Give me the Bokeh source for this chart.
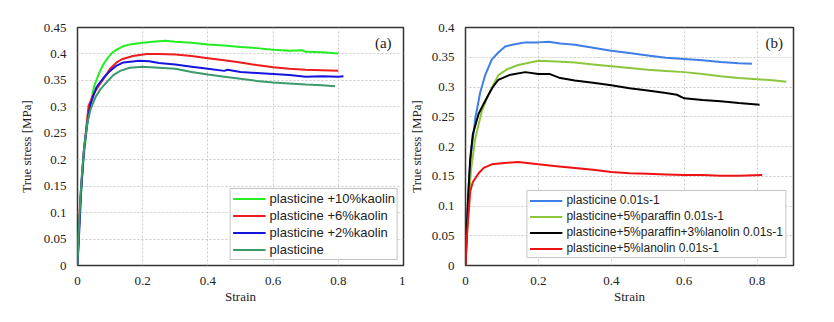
from bokeh.plotting import figure
from bokeh.layouts import row
from bokeh.models import FixedTicker, Legend, LegendItem, Label
from bokeh.embed import file_html
from bokeh.resources import INLINE

# ---------------- Panel (a) data ----------------
a_x_ticks = [0, 0.2, 0.4, 0.6, 0.8, 1.0]
a_x_labels = ["0", "0.2", "0.4", "0.6", "0.8", "1"]
a_y_ticks = [0, 0.05, 0.1, 0.15, 0.2, 0.25, 0.3, 0.35, 0.4, 0.45]
a_y_labels = ["0", "0.05", "0.1", "0.15", "0.2", "0.25", "0.3", "0.35", "0.4", "0.45"]

k10_x = [0, 0.003, 0.01, 0.018, 0.029, 0.04, 0.05, 0.065, 0.08, 0.09, 0.1, 0.11, 0.12, 0.141, 0.17, 0.2,
         0.23, 0.27, 0.3, 0.35, 0.4, 0.45, 0.5, 0.55, 0.6, 0.65, 0.69, 0.7, 0.75, 0.8]
k10_y = [0, 0.053, 0.13, 0.198, 0.261, 0.305, 0.337, 0.362, 0.381, 0.39, 0.398, 0.404, 0.408, 0.415, 0.419, 0.421,
         0.423, 0.425, 0.423, 0.421, 0.418, 0.416, 0.413, 0.411, 0.408, 0.406, 0.407, 0.404, 0.403, 0.401]

k6_x = [0, 0.008, 0.02, 0.034, 0.05, 0.065, 0.08, 0.1, 0.12, 0.136, 0.17, 0.213, 0.25, 0.3,
        0.35, 0.4, 0.45, 0.5, 0.55, 0.6, 0.65, 0.7, 0.75, 0.8]
k6_y = [0, 0.123, 0.22, 0.302, 0.325, 0.34, 0.353, 0.372, 0.384, 0.39, 0.396, 0.40, 0.40, 0.399,
        0.396, 0.392, 0.388, 0.384, 0.379, 0.375, 0.372, 0.37, 0.369, 0.368]

k2_x = [0, 0.005, 0.012, 0.02, 0.03, 0.04, 0.058, 0.08, 0.1, 0.12, 0.141, 0.19, 0.22, 0.25, 0.3,
        0.35, 0.4, 0.45, 0.46, 0.5, 0.55, 0.6, 0.65, 0.7, 0.75, 0.8, 0.816]
k2_y = [0, 0.06, 0.15, 0.22, 0.27, 0.305, 0.337, 0.355, 0.368, 0.378, 0.384, 0.387, 0.386, 0.383, 0.38,
        0.376, 0.372, 0.368, 0.37, 0.366, 0.364, 0.362, 0.36, 0.357, 0.358, 0.357, 0.358]

pl_x = [0, 0.005, 0.012, 0.02, 0.03, 0.04, 0.055, 0.07, 0.09, 0.11, 0.131, 0.16, 0.2, 0.25, 0.3,
        0.35, 0.4, 0.45, 0.5, 0.55, 0.6, 0.65, 0.7, 0.75, 0.79]
pl_y = [0, 0.08, 0.16, 0.22, 0.27, 0.295, 0.318, 0.333, 0.347, 0.36, 0.368, 0.374, 0.376, 0.374, 0.372,
        0.366, 0.361, 0.357, 0.353, 0.349, 0.346, 0.344, 0.342, 0.341, 0.339]

a_names = ["plasticine +10%kaolin", "plasticine +6%kaolin", "plasticine +2%kaolin", "plasticine"]
a_colors = ["#22ee22", "#ee1c1c", "#1414dc", "#3a9a6c"]

# ---------------- Panel (b) data ----------------
b_x_ticks = [0, 0.2, 0.4, 0.6, 0.8]
b_x_labels = ["0", "0.2", "0.4", "0.6", "0.8"]
b_y_ticks = [0, 0.05, 0.1, 0.15, 0.2, 0.25, 0.3, 0.35, 0.4]
b_y_labels = ["0", "0.05", "0.1", "0.15", "0.2", "0.25", "0.3", "0.35", "0.4"]

bp_x = [0, 0.005, 0.01, 0.017, 0.027, 0.04, 0.054, 0.072, 0.09, 0.109, 0.135, 0.164, 0.2, 0.228,
        0.26, 0.3, 0.35, 0.4, 0.45, 0.5, 0.55, 0.6, 0.65, 0.7, 0.75, 0.786]
bp_y = [0, 0.08, 0.15, 0.197, 0.248, 0.29, 0.32, 0.346, 0.358, 0.368, 0.372, 0.375, 0.375, 0.376,
        0.373, 0.371, 0.366, 0.361, 0.357, 0.353, 0.349, 0.347, 0.345, 0.342, 0.34, 0.339]

par_x = [0, 0.008, 0.015, 0.027, 0.045, 0.063, 0.09, 0.115, 0.145, 0.2, 0.25, 0.3, 0.35, 0.4,
         0.45, 0.5, 0.55, 0.6, 0.65, 0.7, 0.75, 0.8, 0.85, 0.88]
par_y = [0, 0.1, 0.16, 0.214, 0.26, 0.287, 0.32, 0.33, 0.337, 0.344, 0.343, 0.341, 0.338, 0.335,
         0.332, 0.329, 0.327, 0.325, 0.322, 0.318, 0.315, 0.313, 0.311, 0.309]

pl3_x = [0, 0.006, 0.013, 0.02, 0.036, 0.05, 0.063, 0.075, 0.09, 0.12, 0.164, 0.2, 0.23, 0.26,
         0.3, 0.35, 0.4, 0.45, 0.5, 0.55, 0.58, 0.6, 0.65, 0.7, 0.75, 0.807]
pl3_y = [0, 0.1, 0.18, 0.22, 0.255, 0.272, 0.287, 0.3, 0.312, 0.32, 0.325, 0.322, 0.322, 0.315,
         0.311, 0.307, 0.303, 0.298, 0.294, 0.29, 0.287, 0.281, 0.278, 0.276, 0.273, 0.27]

lan_x = [0, 0.005, 0.01, 0.013, 0.02, 0.036, 0.05, 0.072, 0.1, 0.145, 0.2, 0.25, 0.3, 0.35,
         0.4, 0.45, 0.5, 0.55, 0.6, 0.65, 0.7, 0.75, 0.814]
lan_y = [0, 0.06, 0.1, 0.125, 0.14, 0.155, 0.164, 0.17, 0.172, 0.174, 0.17, 0.167, 0.164, 0.161,
         0.157, 0.155, 0.154, 0.153, 0.152, 0.152, 0.151, 0.151, 0.152]

b_names = ["plasticine 0.01s-1", "plasticine+5%paraffin 0.01s-1",
           "plasticine+5%paraffin+3%lanolin 0.01s-1", "plasticine+5%lanolin 0.01s-1"]
b_colors = ["#3d7fe6", "#8cc63e", "#000000", "#ee1111"]

SERIF = "'Liberation Serif', 'Times New Roman', serif"
SANS = "'Liberation Sans', Arial, sans-serif"


def make_fig(xmax, ymax, xt, xl, yt, yl, min_left, fw, min_right, ylab_standoff):
    p = figure(frame_width=fw, frame_height=238, x_range=(0, xmax), y_range=(0, ymax),
               output_backend="svg", toolbar_location=None,
               min_border_left=min_left, min_border_right=min_right,
               min_border_top=27, min_border_bottom=55)
    p.outline_line_color = "#333333"
    p.outline_line_width = 1.5
    p.background_fill_color = "white"
    p.border_fill_color = "white"
    p.xaxis.ticker = FixedTicker(ticks=xt)
    p.yaxis.ticker = FixedTicker(ticks=yt)
    p.xaxis.major_label_overrides = {t: l for t, l in zip(xt, xl)}
    p.yaxis.major_label_overrides = {t: l for t, l in zip(yt, yl)}
    for ax in (p.xaxis[0], p.yaxis[0]):
        ax.axis_line_color = None
        ax.major_tick_line_color = None
        ax.minor_tick_line_color = None
        ax.major_tick_out = 0
        ax.major_tick_in = 0
        ax.major_label_text_font = SERIF
        ax.major_label_text_font_size = "13px"
        ax.major_label_text_color = "#222222"
        ax.axis_label_text_font = SERIF
        ax.axis_label_text_font_size = "13px"
        ax.axis_label_text_font_style = "normal"
        ax.axis_label_text_color = "#222222"
    p.xaxis.axis_label = "Strain"
    p.yaxis.axis_label = "True stress [MPa]"
    p.xaxis.major_label_standoff = 11
    p.xaxis.axis_label_standoff = 1
    p.yaxis.major_label_standoff = 11
    p.yaxis.axis_label_standoff = ylab_standoff
    for g in (p.xgrid, p.ygrid):
        g.grid_line_color = "#c8c8c8"
        g.grid_line_dash = "2 2"
        g.grid_line_width = 1
    return p


def add_legend(p, renderers, names, margin, fsize):
    items = [LegendItem(label=n, renderers=[r]) for n, r in zip(names, renderers)]
    leg = Legend(items=items, location="bottom_right")
    leg.label_text_font = SANS
    leg.label_text_font_size = fsize
    leg.label_text_color = "#222222"
    leg.glyph_width = 33
    leg.glyph_height = 13
    leg.label_height = 13
    leg.label_standoff = 4
    leg.spacing = 2
    leg.padding = 2
    leg.margin = margin
    leg.border_line_color = "#8a8a8a"
    leg.border_line_width = 1
    leg.background_fill_color = "white"
    leg.background_fill_alpha = 1
    p.add_layout(leg, "center")


# Panel (a)
pa = make_fig(1.0, 0.45, a_x_ticks, a_x_labels, a_y_ticks, a_y_labels, 77, 326, 2, 7)
a_series = [(k10_x, k10_y), (k6_x, k6_y), (k2_x, k2_y), (pl_x, pl_y)]
ra = []
for (xs, ys), c in zip(a_series, a_colors):
    ra.append(pa.line(xs, ys, line_color=c, line_width=2))
add_legend(pa, ra, a_names, 5, "13px")
pa.add_layout(Label(x=0.938, y=0.421, text="(a)", text_font=SERIF, text_font_size="15px",
                    text_align="center", text_baseline="middle", text_color="#222222"))

# Panel (b)
pb = make_fig(0.9, 0.4, b_x_ticks, b_x_labels, b_y_ticks, b_y_labels, 60, 328, 41, 5)
b_series = [(bp_x, bp_y), (par_x, par_y), (pl3_x, pl3_y), (lan_x, lan_y)]
rb = []
for (xs, ys), c in zip(b_series, b_colors):
    rb.append(pb.line(xs, ys, line_color=c, line_width=2))
add_legend(pb, rb, b_names, 7, "12px")
pb.add_layout(Label(x=0.847, y=0.374, text="(b)", text_font=SERIF, text_font_size="15px",
                    text_align="center", text_baseline="middle", text_color="#222222"))

layout = row(pa, pb)
open("out.html", "w").write(file_html(layout, INLINE))
